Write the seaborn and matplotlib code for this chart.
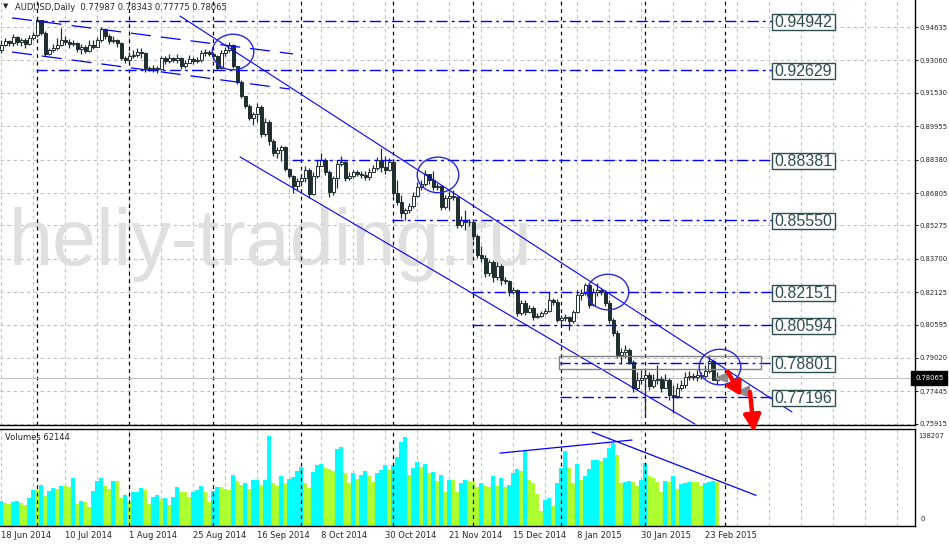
import numpy as np
import pandas as pd
import seaborn as sns
import matplotlib.pyplot as plt
from matplotlib.patches import Ellipse, Rectangle, Polygon
from matplotlib.transforms import blended_transform_factory

sns.set_style('white')
plt.rcParams['font.family'] = ['DejaVu Sans']

# daily AUDUSD bars (open = previous close)
first_open = 0.9356
closes = [
    .9379, .9398, .9389, .9417, .9393, .9403, .9384, .9412, .9426, .9497,
    .9436, .9337, .9356, .9365, .9379, .9403, .9393, .9384, .9389, .9360,
    .9370, .9351, .9379, .9370, .9403, .9455, .9422, .9398, .9403, .9389,
    .9318, .9308, .9327, .9332, .9346, .9341, .9271, .9266, .9271, .9266,
    .9318, .9304, .9318, .9308, .9318, .9280, .9294, .9313, .9304, .9308,
    .9341, .9346, .9337, .9327, .9271, .9341, .9356, .9379, .9280, .9204,
    .9138, .9091, .9035, .9053, .9087, .8959, .9016, .8926, .8869, .8884,
    .8898, .8794, .8761, .8714, .8737, .8751, .8789, .8676, .8761, .8808,
    .8836, .8780, .8685, .8751, .8817, .8827, .8751, .8761, .8780, .8770,
    .8766, .8756, .8780, .8799, .8836, .8803, .8789, .8827, .8681, .8638,
    .8586, .8600, .8619, .8666, .8709, .8723, .8770, .8742, .8709, .8714,
    .8614, .8657, .8666, .8662, .8530, .8553, .8544, .8546, .8478, .8388,
    .8374, .8303, .8355, .8284, .8336, .8270, .8265, .8213, .8223, .8114,
    .8161, .8119, .8138, .8095, .8100, .8114, .8124, .8176, .8166, .8081,
    .8091, .8095, .8076, .8119, .8199, .8209, .8246, .8152, .8213, .8223,
    .8213, .8161, .8081, .8020, .7916, .7930, .7940, .7883, .7760, .7798,
    .7807, .7822, .7770, .7798, .7803, .7760, .7798, .7727, .7722, .7760,
    .7774, .7812, .7817, .7812, .7822, .7817, .7840, .7888, .7799, .78065,
]
highs = [
    .9403, .9412, .9403, .9431, .9422, .9412, .9412, .9426, .9441, .9502,
    .9497, .9445, .9365, .9384, .9412, .9459, .9422, .9407, .9403, .9393,
    .9384, .9379, .9403, .9403, .9417, .9464, .9459, .9431, .9422, .9407,
    .9393, .9327, .9346, .9356, .9365, .9365, .9346, .9280, .9285, .9280,
    .9327, .9327, .9337, .9322, .9337, .9322, .9308, .9332, .9322, .9322,
    .9356, .9360, .9356, .9346, .9332, .9356, .9370, .9393, .9384, .9280,
    .9214, .9138, .9101, .9063, .9105, .9096, .9035, .9025, .8935, .8898,
    .8907, .8902, .8799, .8766, .8751, .8770, .8808, .8799, .8780, .8836,
    .8869, .8846, .8789, .8761, .8836, .8855, .8836, .8780, .8789, .8789,
    .8784, .8784, .8799, .8813, .8851, .8893, .8855, .8846, .8836, .8742,
    .8671, .8610, .8633, .8685, .8732, .8742, .8789, .8770, .8784, .8728,
    .8718, .8671, .8690, .8695, .8666, .8572, .8600, .8558, .8553, .8487,
    .8430, .8388, .8364, .8364, .8355, .8345, .8284, .8270, .8237, .8227,
    .8176, .8176, .8152, .8147, .8114, .8124, .8138, .8213, .8185, .8180,
    .8105, .8109, .8100, .8128, .8223, .8227, .8256, .8256, .8232, .8256,
    .8227, .8223, .8176, .8091, .8034, .7949, .7963, .7949, .7892, .7836,
    .7845, .7855, .7836, .7826, .7869, .7817, .7826, .7807, .7774, .7784,
    .7798, .7836, .7840, .7831, .7845, .7836, .7869, .7916, .7897, .78343,
]
lows = [
    .9341, .9374, .9374, .9374, .9379, .9374, .9365, .9379, .9403, .9417,
    .9426, .9327, .9332, .9346, .9356, .9374, .9379, .9365, .9374, .9346,
    .9337, .9341, .9346, .9360, .9370, .9393, .9407, .9384, .9389, .9370,
    .9308, .9294, .9299, .9318, .9322, .9318, .9252, .9256, .9252, .9247,
    .9261, .9289, .9294, .9299, .9294, .9266, .9271, .9294, .9289, .9294,
    .9299, .9327, .9327, .9308, .9261, .9266, .9327, .9346, .9271, .9195,
    .9129, .9082, .9025, .9002, .9016, .8945, .8950, .8907, .8855, .8846,
    .8832, .8784, .8751, .8681, .8695, .8714, .8732, .8657, .8671, .8751,
    .8808, .8766, .8662, .8671, .8704, .8808, .8737, .8742, .8751, .8761,
    .8751, .8742, .8742, .8780, .8789, .8780, .8770, .8784, .8666, .8624,
    .8563, .8553, .8586, .8610, .8662, .8695, .8714, .8723, .8695, .8695,
    .8600, .8605, .8600, .8648, .8515, .8520, .8506, .8525, .8459, .8374,
    .8355, .8284, .8289, .8261, .8270, .8246, .8251, .8194, .8204, .8100,
    .8105, .8105, .8114, .8081, .8091, .8095, .8109, .8119, .8152, .8072,
    .8058, .8076, .8034, .8067, .8114, .8176, .8199, .8138, .8147, .8194,
    .8199, .8147, .8067, .8006, .7902, .7873, .7902, .7873, .7741, .7751,
    .7779, .7623, .7751, .7760, .7779, .7741, .7760, .7704, .7642, .7713,
    .7751, .7760, .7798, .7798, .7793, .7803, .7807, .7831, .7798, .77775,
]
volumes = [
    35745, 31932, 30979, 34315, 34500, 32885, 30026, 39081, 50996, 50400,
    58622, 42894, 50043, 53379, 52426, 57192, 56715, 54809, 68154, 30979,
    35745, 33362, 27166, 50043, 64341, 68154, 57192, 52426, 64341, 64000,
    39558, 44324, 34315, 47660, 48613, 53856, 50996, 30979, 40511, 44324,
    37651, 39558, 30026, 41464, 55762, 47660, 47500, 40511, 47660, 50996,
    56715, 48613, 33362, 50043, 55762, 54809, 52426, 50996, 72920, 64341,
    58622, 61481, 52903, 64818, 65294, 58622, 65771, 128682, 61481, 56715,
    71490, 61481, 66247, 69107, 77686, 84358, 60528, 54332, 76733, 86741,
    87694, 82452, 80545, 78639, 110095, 112954, 75779, 61481, 75779, 67201,
    72920, 78639, 71490, 62911, 74826, 80069, 87218, 79592, 87218, 97703,
    120103, 127252, 72920, 82928, 91507, 84358, 88171, 74826, 77209, 64341,
    72920, 47660, 65771, 65500, 47660, 60528, 65771, 63388, 62911, 54809,
    60528, 57192, 54809, 71490, 57192, 68154, 55762, 58622, 75303, 81022,
    78639, 106282, 65294, 61481, 45277, 20494, 37175, 39558, 28596, 61005,
    82452, 107235, 82452, 60528, 88171, 65294, 71490, 81022, 93890, 94367,
    92937, 96750, 111048, 117720, 101516, 60528, 62911, 64341, 61958, 57192,
    65771, 89601, 71490, 68154, 62911, 47660, 64341, 61958, 71490, 52426,
    59575, 61005, 61958, 61800, 61700, 57192, 61481, 61958, 64341, 62144,
]

date_labels = ['18 Jun 2014', '10 Jul 2014', '1 Aug 2014', '25 Aug 2014',
               '16 Sep 2014', '8 Oct 2014', '30 Oct 2014', '21 Nov 2014',
               '15 Dec 2014', '8 Jan 2015', '30 Jan 2015', '23 Feb 2015']
month_starts = [9, 32, 53, 75, 98, 118, 140, 161, 181]
price_ticks = [0.94635, 0.93060, 0.91530, 0.89955, 0.88380, 0.86805, 0.85275,
               0.83700, 0.82125, 0.80595, 0.79020, 0.77445, 0.75915]

# drawn objects: levels, channels, circles
levels = [0.94942, 0.92629, 0.88381, 0.85550, 0.82151, 0.80594, 0.78801, 0.77196]
level_from = [8.75, 8.75, 72.75, 97.75, 117.75, 117.75, 139.5, 139.75]
level_to = 192.75
dashed_channels = [([2.75, 73.0], [.9507, .9337]), ([2.75, 72.25], [.9346, .9171])]
solid_channels = [([44.75, 197.75], [.9516, .7647]), ([59.75, 173.5], [.8851, .7590])]
circles = [(58.0, .9346), (109.25, .8766), (151.75, .8213), (179.75, .7859)]
volume_lines = [([124.75, 157.75], [103658, 122375]), ([147.75, 188.75], [133892, 43191])]

title = 'AUDUSD,Daily  0.77987 0.78343 0.77775 0.78065'
last_price = 0.78065
vol_max = 138207

df = pd.DataFrame({'close': closes, 'high': highs, 'low': lows, 'volume': volumes})
df['bar'] = np.arange(len(df))
df['open'] = df['close'].shift(1).fillna(first_open)
df['bull'] = df['close'] >= df['open']
df['dir'] = np.where(df['volume'].diff().fillna(1) > 0, 'up', 'down')

W, H = 949, 545
fig = plt.figure(figsize=(W / 100, H / 100), dpi=100)
ax = fig.add_axes([0, 120 / H, 915 / W, 425 / H])
axv = fig.add_axes([0, 19.5 / H, 915 / W, 96.5 / H])
ax.set_zorder(2)

grid_kw = dict(color='#C0C0C0', ls=(0, (3, 3)), lw=0.8)
sep_kw = dict(color='black', ls=(0, (3, 3)), lw=0.9, zorder=2)
small = 4.9

# volumes
sns.barplot(data=df, x='bar', y='volume', hue='dir',
            palette={'up': '#00FFFF', 'down': '#ADFF2F'}, dodge=False,
            width=1.0, native_scale=True, saturation=1, errorbar=None,
            legend=False, linewidth=0, ax=axv)

for a in (ax, axv):
    a.set_xlim(-0.25, 228.5)
    a.set_xticks(np.arange(0, 229, 8))
    a.grid(axis='x', **grid_kw)
    a.set_axisbelow(True)
    for m in month_starts:
        a.axvline(m, **sep_kw)
    a.spines['left'].set_visible(False)
    for s in ('right', 'bottom', 'top'):
        a.spines[s].set_color('black')
        a.spines[s].set_linewidth(1)
ax.spines['top'].set_visible(False)

# price panel
ax.set_ylim(0.75855, 0.95915)
ax.set_yticks(price_ticks)
ax.set_yticklabels([f'{t:.5f}' for t in price_ticks])
ax.grid(axis='y', **grid_kw)
ax.yaxis.tick_right()
ax.tick_params(axis='y', length=2.5, width=0.8, pad=1, labelsize=small)
ax.tick_params(axis='x', length=0, labelbottom=False)

ax.text(1.75, 0.8341, 'heliy-trading.ru', fontsize=57, family='Liberation Sans',
        color='#DFDFDF', va='baseline', ha='left', zorder=1)

ax.axhline(last_price, color='#C0C0C0', lw=0.8, zorder=2)

dark = '#1F2E2E'
ax.vlines(df['bar'], df['low'], df['high'], color=dark, lw=0.9, zorder=3)
body_lo = df[['open', 'close']].min(axis=1)
body_h = (df['close'] - df['open']).abs().clip(lower=0.00015)
ax.bar(df['bar'], body_h, bottom=body_lo, width=0.75,
       color=np.where(df['bull'], 'white', dark), edgecolor=dark,
       linewidth=0.7, zorder=4)

for xs, ys in dashed_channels:
    ax.plot(xs, ys, color='blue', lw=0.9, ls=(0, (16, 8)), zorder=5)
for xs, ys in solid_channels:
    ax.plot(xs, ys, color='blue', lw=0.8, zorder=5)
ax.hlines(levels, level_from, level_to, colors='blue', lw=1.0,
          linestyles=[(0, (8, 3, 2, 3))], zorder=5)
ax.add_patch(Rectangle((139.5, 0.7850), 50.5, 0.0061, fill=False,
                       ec='#808080', lw=1, zorder=5))
for lv in levels:
    yc = lv - 0.0008
    ax.add_patch(Rectangle((level_to, yc - 0.00378), 15.75, 0.00755,
                           fc='white', ec='#2F4F4F', lw=1, zorder=7))
    ax.text(level_to + 15.75 / 2, yc, f'{lv:.5f}', fontsize=11.5,
            family='Liberation Sans', color='#2F4F4F', ha='center',
            va='center', zorder=8)

for cx, cy in circles:
    ax.add_patch(Ellipse((cx, cy), 10.4, 0.0168, fill=False, ec='#2828D8',
                         lw=1, zorder=6))

ax.add_patch(Polygon([(178.25, .7807), (181.75, .7836), (181.75, .7784)],
                     closed=True, fc='#8C8C8C', ec='none', zorder=6))
ax.add_patch(Polygon([(183.5, .7741), (187.25, .7774), (187.25, .7713)],
                     closed=True, fc='#8C8C8C', ec='none', zorder=6))
ax.annotate('', xy=(185.0, .7722), xytext=(181.75, .7836),
            arrowprops=dict(arrowstyle='-|>,head_length=0.6,head_width=0.35',
                            color='red', lw=3.2, mutation_scale=13,
                            shrinkA=0, shrinkB=0),
            annotation_clip=False, zorder=9)
ax.annotate('', xy=(188.25, .7552), xytext=(187.25, .7741),
            arrowprops=dict(arrowstyle='-|>,head_length=0.7,head_width=0.36',
                            color='red', lw=3.2, mutation_scale=14,
                            shrinkA=0, shrinkB=0),
            annotation_clip=False, zorder=9)

tr = blended_transform_factory(ax.transAxes, ax.transData)
ax.text(1.0, last_price, '0.78065', transform=tr, fontsize=small, color='white',
        va='center', ha='left', zorder=10, clip_on=False,
        bbox=dict(boxstyle='square,pad=0.55', fc='black', ec='black'))

# volume panel
axv.set_ylim(0, vol_max)
axv.set_yticks([])
axv.set_xlabel('')
axv.set_ylabel('')
for xs, ys in volume_lines:
    axv.plot(xs, ys, color='blue', lw=0.9, zorder=5)
tick_labels = [date_labels[i // 2] if i % 2 == 0 and i // 2 < len(date_labels) else ''
               for i in range(len(axv.get_xticks()))]
axv.set_xticklabels(tick_labels, fontsize=6, ha='left')
axv.tick_params(axis='x', length=0, pad=4)
axv.text(1.004, 0.96, str(vol_max), transform=axv.transAxes, fontsize=small, va='top')
axv.text(1.006, 0.04, '0', transform=axv.transAxes, fontsize=small, va='bottom')

fig.text(15 / W, 1 - 7 / H, title, fontsize=6, va='center')
fig.text(3 / W, 1 - 6.5 / H, '\u25bc', fontsize=5, va='center')
fig.text(5 / W, 1 - 438 / H, f'Volumes {volumes[-1]}', fontsize=6, va='center')

fig.savefig('out.png', dpi=100)
